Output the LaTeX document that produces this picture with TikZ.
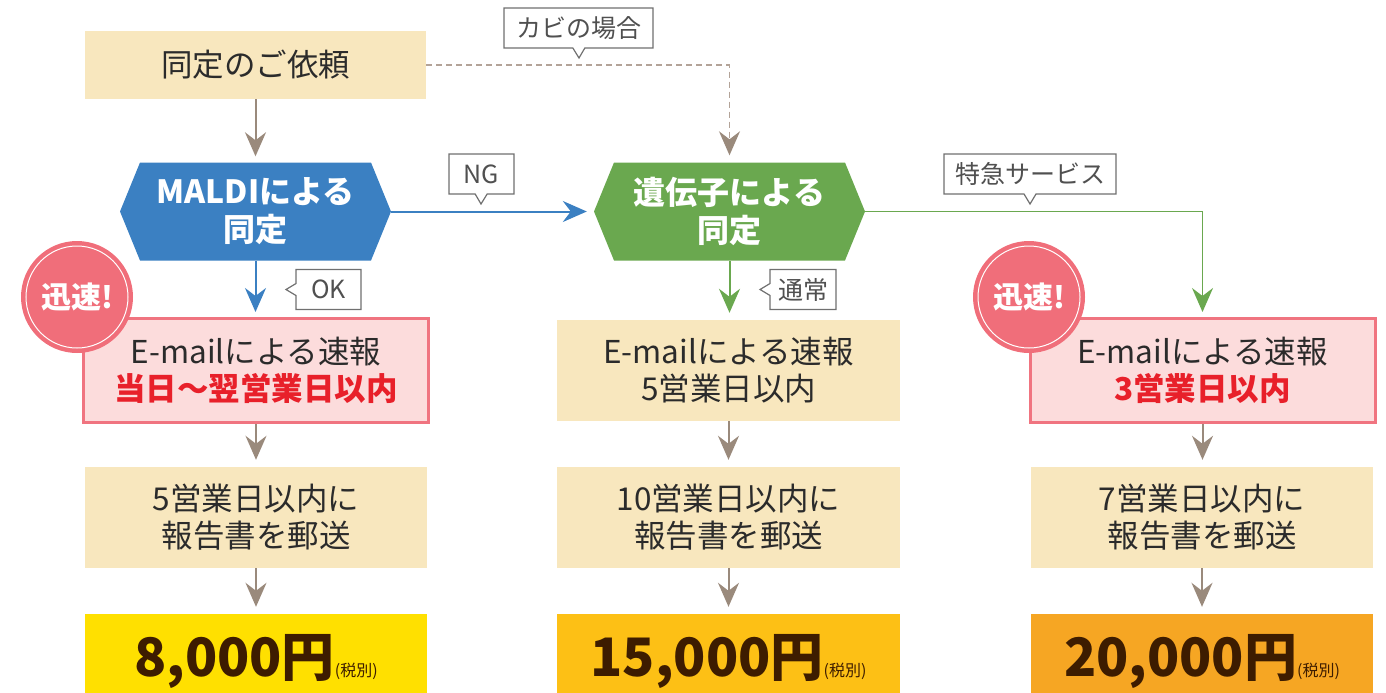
\documentclass[tikz,border=0pt]{standalone}
\usepackage{fontspec}
\setmainfont{Noto Sans CJK JP}
\usetikzlibrary{arrows.meta,shapes.callouts}
\definecolor{tanbox}{HTML}{F8E7BE}
\definecolor{pinkfill}{HTML}{FCDCDC}
\definecolor{pinkline}{HTML}{F07480}
\definecolor{pinkcirc}{HTML}{F06E7A}
\definecolor{bluehex}{HTML}{3B80C2}
\definecolor{greenhex}{HTML}{6AA84F}
\definecolor{arrbrown}{HTML}{9A8A7C}
\definecolor{dashbrown}{HTML}{B3A398}
\definecolor{txt}{HTML}{2B2B2B}
\definecolor{calgray}{HTML}{707070}
\definecolor{caltxt}{HTML}{505050}
\definecolor{redtxt}{HTML}{E8202A}
\definecolor{price}{HTML}{3D1C00}
\definecolor{yel1}{HTML}{FFE000}
\definecolor{yel2}{HTML}{FDC015}
\definecolor{yel3}{HTML}{F6A623}
\begin{document}
\begin{tikzpicture}[x=1pt,y=-1pt,
  box/.style={rectangle, inner sep=0, align=center, text=txt,
    font=\fontsize{31.5}{37}\selectfont},
  hexbox/.style={rectangle, inner sep=0, align=center, text=white,
    minimum width=271pt, minimum height=98pt,
    font=\fontsize{32}{38}\selectfont\bfseries,
    path picture={\fill[#1]
      ([xshift=20pt]path picture bounding box.north west) --
      ([xshift=-20pt]path picture bounding box.north east) --
      (path picture bounding box.east) --
      ([xshift=-20pt]path picture bounding box.south east) --
      ([xshift=20pt]path picture bounding box.south west) --
      (path picture bounding box.west) -- cycle;}},
  pinkbox/.style={box, fill=pinkfill, draw=pinkline, line width=3pt,
    minimum width=345pt, minimum height=104pt},
  tanrect/.style={box, fill=tanbox, minimum width=342pt, minimum height=101pt},
  pricebox/.style={box, minimum width=342pt, minimum height=79pt, text=price,
    text height=46pt, text depth=0pt},
  badge/.style={circle, fill=pinkcirc, minimum size=112pt, inner sep=0,
    text=white, font=\fontsize{30}{32}\selectfont\bfseries},
  callout/.style={rectangle callout, draw=calgray, line width=1.2pt, fill=white,
    text=caltxt, inner sep=0, minimum height=40pt, callout pointer width=12pt,
    font=\fontsize{25}{27}\selectfont},
  arr/.style={-{Stealth[length=24pt,width=21pt,inset=8pt]}, line width=2pt},
]
\useasboundingbox (0,0) rectangle (1386,693);

% top box
\node[tanrect, minimum width=341pt, minimum height=68pt,
  font=\fontsize{31.5}{37}\selectfont] (req) at (255.5,65) {同定のご依頼};

% hexagons
\node[hexbox=bluehex] (maldi) at (255.5,211.5) {MALDIによる\\同定};
\node[hexbox=greenhex] (gene) at (729.5,211.5) {遺伝子による\\同定};

% row 2
\node[pinkbox] (mail1) at (256,370.5)
  {E-mailによる速報\\{\color{redtxt}\bfseries 当日～翌営業日以内}};
\node[tanrect, minimum width=343pt] (mail2) at (728.5,370.5)
  {E-mailによる速報\\5営業日以内};
\node[pinkbox] (mail3) at (1202.5,370.5)
  {E-mailによる速報\\{\color{redtxt}\bfseries 3営業日以内}};

% row 3
\node[tanrect] (rep1) at (256,517.5) {5営業日以内に\\報告書を郵送};
\node[tanrect, minimum width=343pt] (rep2) at (728.5,517.5) {10営業日以内に\\報告書を郵送};
\node[tanrect] (rep3) at (1202,517.5) {7営業日以内に\\報告書を郵送};

% row 4
\node[pricebox, fill=yel1] (p1) at (256,653.5)
  {\fontsize{53}{58}\selectfont\bfseries 8,000円\fontsize{16}{18}\selectfont\mdseries (税別)};
\node[pricebox, minimum width=343pt, fill=yel2] (p2) at (728.5,653.5)
  {\fontsize{53}{58}\selectfont\bfseries 15,000円\fontsize{16}{18}\selectfont\mdseries (税別)};
\node[pricebox, fill=yel3] (p3) at (1202,653.5)
  {\fontsize{53}{58}\selectfont\bfseries 20,000円\fontsize{16}{18}\selectfont\mdseries (税別)};

% badges
\node[badge] (b1) at (77,297) {迅速!};
\draw[white, line width=1pt] (b1.center) circle (51);
\node[badge] (b3) at (1029,297) {迅速!};
\draw[white, line width=1pt] (b3.center) circle (51);

% connectors
\draw[arr, arrbrown, shorten >=6pt] (req.south) -- (req.south |- maldi.north);
\draw[arr, dashbrown, line width=1.5pt, dash pattern=on 6pt off 4pt,
  -{Stealth[length=24pt,width=21pt,inset=8pt,arrbrown]}, shorten >=7pt]
  (req.east) -| (gene.north);
\draw[arr, bluehex, shorten >=7pt] (maldi.east) -- (gene.west);
\draw[arr, bluehex, shorten >=5pt] (maldi.south) -- (maldi.south |- mail1.north);
\draw[arr, greenhex, shorten >=7pt] (gene.south) -- (gene.south |- mail2.north);
\draw[arr, greenhex, line width=1.6pt, shorten >=5pt] (gene.east) -| (mail3.north);
\draw[arr, arrbrown, shorten >=7pt] (mail1.south) -- (mail1.south |- rep1.north);
\draw[arr, arrbrown, shorten >=7pt] (mail2.south) -- (mail2.south |- rep2.north);
\draw[arr, arrbrown, shorten >=7pt] (mail3.south) -- (mail3.south |- rep3.north);
\draw[arr, arrbrown, shorten >=7pt] (rep1.south) -- (rep1.south |- p1.north);
\draw[arr, arrbrown, shorten >=7pt] (rep2.south) -- (rep2.south |- p2.north);
\draw[arr, arrbrown, shorten >=7pt] (rep3.south) -- (rep3.south |- p3.north);

% callouts
\node[callout, minimum width=149pt, callout absolute pointer={(579,58)}] (kabi) at (578.5,28) {カビの場合};
\node[callout, minimum width=65pt, callout absolute pointer={(481,204)}] (ng) at (481.5,174) {NG};
\node[callout, minimum width=65pt, callout absolute pointer={(286,289.5)}] (ok) at (328.5,289.5) {OK};
\node[callout, minimum width=172pt, callout absolute pointer={(1030,204)}] (toku) at (1030,174) {特急サービス};
\node[callout, minimum width=66pt, callout absolute pointer={(760,289.5)}] (tsu) at (803,289.5) {通常};
\end{tikzpicture}
\end{document}
